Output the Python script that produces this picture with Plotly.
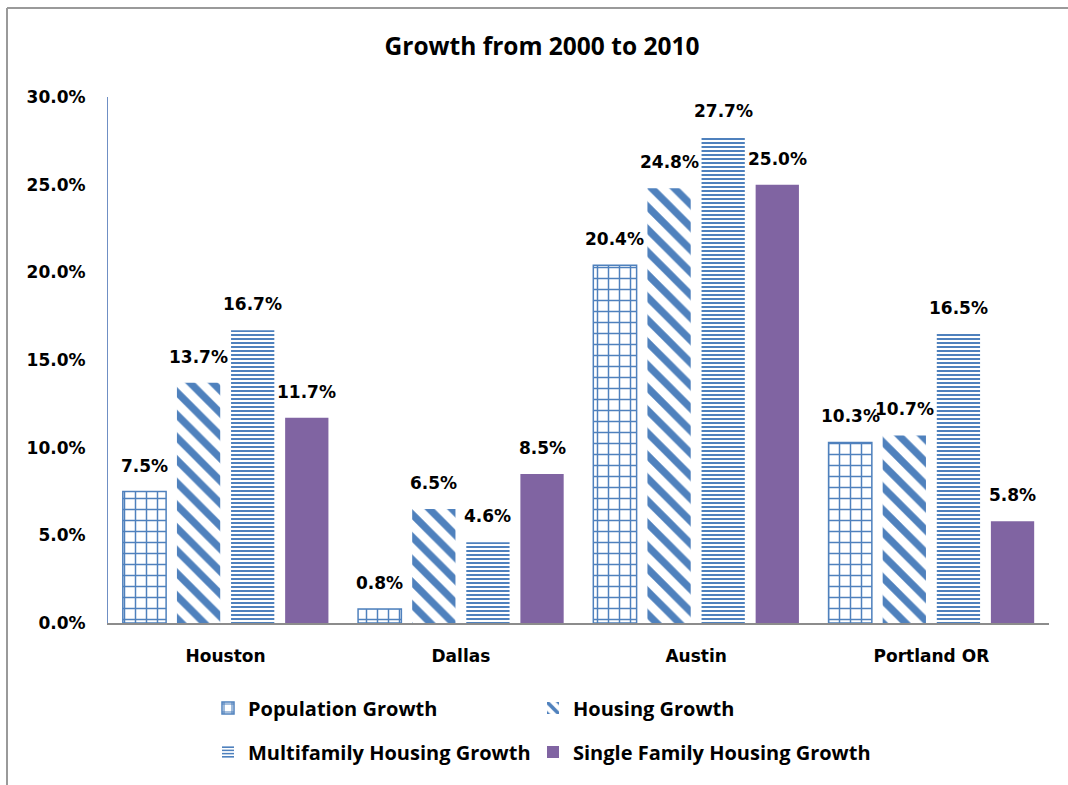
import plotly.graph_objects as go

cities = ["Houston", "Dallas", "Austin", "Portland OR"]
population_growth = [0.075, 0.008, 0.204, 0.103]
housing_growth = [0.137, 0.065, 0.248, 0.107]
multifamily_growth = [0.167, 0.046, 0.277, 0.165]
single_family_growth = [0.117, 0.085, 0.250, 0.058]
y_ticks = [0, 0.05, 0.10, 0.15, 0.20, 0.25, 0.30]

BLUE = "#4F81BD"
PURPLE = "#8064A2"
NUM_FONT = dict(family="DejaVu Sans", size=17, color="black", weight="bold")

W, H = 1068, 785
ML, MR, MT, MB = 108, 19, 97, 162
PW, PH = W - ML - MR, H - MT - MB
BARGAP, BARGROUPGAP = 0.08, 0.2

def px_x(px):
    return (px - ML) / PW

def px_y(py):
    return (H - MB - py) / PH

# (name, values, marker, legend id, legend left px, legend row px)
series = [
    ("Population Growth", population_growth,
     dict(color="white", line=dict(color=BLUE, width=1.5),
          pattern=dict(shape="+", size=11, solidity=0.25, fgcolor=BLUE,
                       bgcolor="white", fgopacity=1, fillmode="replace")),
     "legend", 208, 708),
    ("Housing Growth", housing_growth,
     dict(color="white", line=dict(width=0),
          pattern=dict(shape="\\", size=16, solidity=0.45, fgcolor=BLUE,
                       bgcolor="white", fgopacity=1, fillmode="replace")),
     "legend2", 533, 708),
    ("Multifamily Housing Growth", multifamily_growth,
     dict(color="white", line=dict(width=0),
          pattern=dict(shape="-", size=4, solidity=0.5, fgcolor=BLUE,
                       bgcolor="white", fgopacity=1, fillmode="replace")),
     "legend3", 208, 752),
    ("Single Family Housing Growth", single_family_growth,
     dict(color=PURPLE, line=dict(width=0)),
     "legend4", 533, 752),
]

fig = go.Figure()
for name, vals, marker, leg, lx, ly in series:
    fig.add_trace(go.Bar(name=name, x=cities, y=vals, marker=marker,
                         legend=leg, showlegend=True))

# value labels placed above each bar through the axes
cat_px = PW / len(cities)
slot_px = cat_px * (1 - BARGAP) / len(series)
annotations = []
for i, (name, vals, marker, leg, lx, ly) in enumerate(series):
    for c, v in zip(cities, vals):
        annotations.append(dict(
            x=c, y=v, xref="x", yref="y", text=f"{v:.1%}", showarrow=False,
            xshift=(i - (len(series) - 1) / 2) * slot_px, yshift=26,
            xanchor="center", yanchor="middle", font=NUM_FONT))

legends = {}
for name, vals, marker, leg, lx, ly in series:
    legends[leg] = dict(orientation="h", xanchor="left", yanchor="middle",
                        x=px_x(lx), y=px_y(ly), visible=True,
                        font=dict(family="Open Sans", size=20, color="black", weight="bold"),
                        bgcolor="rgba(0,0,0,0)", borderwidth=0,
                        itemclick=False, itemdoubleclick=False)

fig.update_layout(
    width=W, height=H, showlegend=True,
    margin=dict(l=ML, r=MR, t=MT, b=MB, autoexpand=False),
    paper_bgcolor="white", plot_bgcolor="white",
    barmode="group", bargap=BARGAP, bargroupgap=BARGROUPGAP,
    title=dict(text="<b>Growth from 2000 to 2010</b>", x=542 / W,
               xanchor="center", y=1 - 46 / H, yanchor="middle",
               font=dict(family="Open Sans", size=24.5, color="black", weight="bold")),
    xaxis=dict(showline=True, linecolor="#8C8C8C", linewidth=2, ticks="",
               ticklabelstandoff=17,
               tickfont=NUM_FONT, showgrid=False),
    yaxis=dict(range=[0, 0.30], tickvals=y_ticks, tickformat=".1%",
               showline=True, linecolor="#6F8FC4", linewidth=1, ticks="",
               ticklabelstandoff=18,
               tickfont=NUM_FONT, showgrid=False, zeroline=False),
    annotations=annotations,
    shapes=[
        dict(type="line", xref="paper", yref="paper", x0=px_x(7), x1=px_x(1068),
             y0=px_y(8), y1=px_y(8), line=dict(color="#9A9A9A", width=2)),
        dict(type="line", xref="paper", yref="paper", x0=px_x(7), x1=px_x(7),
             y0=px_y(8), y1=px_y(785), line=dict(color="#9A9A9A", width=2)),
    ],
    **legends,
)

fig.write_html("out.html")
